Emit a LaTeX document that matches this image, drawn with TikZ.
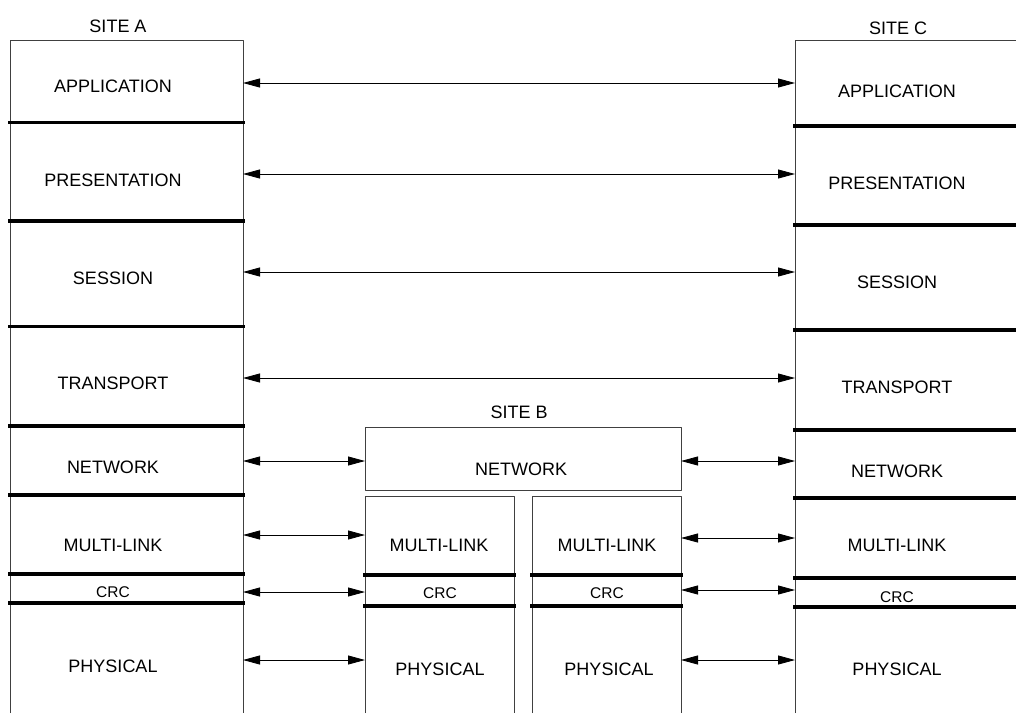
\documentclass[tikz,border=0pt]{standalone}
\usepackage{fontspec}
\setmainfont{Liberation Sans}
\usetikzlibrary{arrows.meta}

\begin{document}
\begin{tikzpicture}[
  x=1pt,
  y=-1pt,
  line join=round,
  box/.style={draw=black!75, line width=1pt},
  sep/.style={line width=3.7pt},
  link/.style={line width=0.8pt,
    {Triangle[length=17pt,width=9pt]}-{Triangle[length=17pt,width=9pt]}},
  lbl/.style={font=\fontsize{18}{20}\selectfont, inner sep=0pt},
  lblsmall/.style={font=\fontsize{15.5}{17}\selectfont, inner sep=0pt}
]
\useasboundingbox (0,0) rectangle (1016,713);

% ---------- parameters ----------
\def\Ax{10}     % site A left edge
\def\Ar{243}    % site A right edge
\def\Cx{795}    % site C left edge
\def\Bl{365}    % site B left edge
\def\Br{681}    % site B right edge

% ---------- site A ----------
\draw[box] (\Ax,713) -- (\Ax,40.5) -- (\Ar,40.5) -- (\Ar,713);
\foreach \y in {122.5,221,326.5,426,495,574,603}
  \draw[sep] (\Ax-2,\y) -- (\Ar+2,\y);

\node[lbl] (siteA) at (118,26) {SITE A};
\foreach \n/\y/\t in {
  app/86/APPLICATION,
  pres/180/PRESENTATION,
  sess/278/SESSION,
  trans/383/TRANSPORT,
  net/467/NETWORK,
  ml/545/MULTI-LINK,
  phy/666/PHYSICAL
}{
  \node[lbl] (\n A) at (113,\y) {\t};
}
\node[lblsmall] (crcA) at (113,592) {CRC};

% ---------- site C ----------
\draw[box] (\Cx,713) -- (\Cx,40.5) -- (1016,40.5);
\foreach \y in {126,225,330,430,498,578,607}
  \draw[sep] (\Cx-2,\y) -- (1016,\y);

\node[lbl] (siteC) at (898,28) {SITE C};
\foreach \n/\y/\t in {
  app/91/APPLICATION,
  pres/183/PRESENTATION,
  sess/282/SESSION,
  trans/387/TRANSPORT,
  net/471/NETWORK,
  ml/545/MULTI-LINK,
  phy/669/PHYSICAL
}{
  \node[lbl] (\n C) at (897,\y) {\t};
}
\node[lblsmall] (crcC) at (897,597) {CRC};

% ---------- site B ----------
\draw[box] (\Bl,427) rectangle (\Br,490);
\draw[box] (\Bl,713) -- (\Bl,496) -- (514,496) -- (514,713);
\draw[box] (532,713) -- (532,496) -- (\Br,496) -- (\Br,713);
\foreach \y in {575,606}{
  \draw[sep] (\Bl-2,\y) -- (516,\y);
  \draw[sep] (530,\y) -- (\Br+2,\y);
}

\node[lbl] (siteB) at (519,412) {SITE B};
\node[lbl] (netB) at (521,469) {NETWORK};
\node[lbl] (mlB1) at (439,545) {MULTI-LINK};
\node[lbl] (mlB2) at (607,545) {MULTI-LINK};
\node[lblsmall] (crcB1) at (440,593) {CRC};
\node[lblsmall] (crcB2) at (607,593) {CRC};
\node[lbl] (phyB1) at (440,669) {PHYSICAL};
\node[lbl] (phyB2) at (609,669) {PHYSICAL};

% ---------- peer links ----------
\foreach \n/\y in {app/83, pres/174, sess/272, trans/378}{
  \coordinate (\n L) at (\Ar,\y);
  \coordinate (\n R) at (\Cx,\y);
  \draw[link] (\n L) -- (\n R);
}

\foreach \n/\yl/\yr in {net/461/461, ml/535/538, crc/592/590, phy/660/660}{
  \coordinate (\n AB) at (\Ar,\yl);
  \coordinate (\n BA) at (\Bl,\yl);
  \coordinate (\n BC) at (\Br,\yr);
  \coordinate (\n CB) at (\Cx,\yr);
  \draw[link] (\n AB) -- (\n BA);
  \draw[link] (\n BC) -- (\n CB);
}

\end{tikzpicture}
\end{document}
